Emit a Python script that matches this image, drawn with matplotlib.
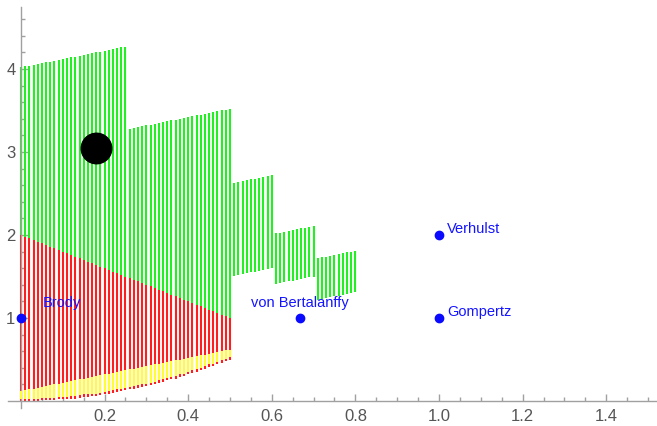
import numpy as np
import matplotlib.pyplot as plt
from matplotlib.ticker import FixedLocator

plt.rcParams['font.family'] = ['Liberation Sans', 'DejaVu Sans']

# sampled parameter values (one vertical stroke each)
green_x = [0.00, 0.01, 0.02, 0.03, 0.04, 0.05, 0.06, 0.07, 0.08, 0.09,
           0.10, 0.11, 0.12, 0.13, 0.14, 0.15, 0.16, 0.17, 0.18, 0.19,
           0.20, 0.21, 0.22, 0.23, 0.24, 0.25,
           0.26, 0.27, 0.28, 0.29, 0.30, 0.31, 0.32, 0.33, 0.34, 0.35,
           0.36, 0.37, 0.38, 0.39, 0.40, 0.41, 0.42, 0.43, 0.44, 0.45,
           0.46, 0.47, 0.48, 0.49, 0.50,
           0.51, 0.52, 0.53, 0.54, 0.55, 0.56, 0.57, 0.58, 0.59, 0.60,
           0.61, 0.62, 0.63, 0.64, 0.65, 0.66, 0.67, 0.68, 0.69, 0.70,
           0.71, 0.72, 0.73, 0.74, 0.75, 0.76, 0.77, 0.78, 0.79, 0.80]
green_top = [4.02, 4.03, 4.04, 4.05, 4.06, 4.07, 4.08, 4.09, 4.10, 4.11,
             4.12, 4.13, 4.14, 4.15, 4.16, 4.17, 4.18, 4.19, 4.20, 4.21,
             4.22, 4.23, 4.24, 4.25, 4.26, 4.27,
             3.28, 3.29, 3.30, 3.31, 3.32, 3.33, 3.34, 3.35, 3.36, 3.37,
             3.38, 3.39, 3.40, 3.41, 3.42, 3.43, 3.44, 3.45, 3.46, 3.47,
             3.48, 3.49, 3.50, 3.51, 3.52,
             2.63, 2.64, 2.65, 2.66, 2.67, 2.68, 2.69, 2.70, 2.71, 2.72,
             2.02, 2.03, 2.04, 2.05, 2.06, 2.07, 2.08, 2.09, 2.10, 2.11,
             1.72, 1.73, 1.74, 1.75, 1.76, 1.77, 1.78, 1.79, 1.80, 1.81]
green_bottom = [2.00, 1.98, 1.96, 1.94, 1.92, 1.90, 1.88, 1.86, 1.84, 1.82,
                1.80, 1.78, 1.76, 1.74, 1.72, 1.70, 1.68, 1.66, 1.64, 1.62,
                1.60, 1.58, 1.56, 1.54, 1.52, 1.50,
                1.48, 1.46, 1.44, 1.42, 1.40, 1.38, 1.36, 1.34, 1.32, 1.30,
                1.28, 1.26, 1.24, 1.22, 1.20, 1.18, 1.16, 1.14, 1.12, 1.10,
                1.08, 1.06, 1.04, 1.02, 1.00,
                1.51, 1.52, 1.53, 1.54, 1.55, 1.56, 1.57, 1.58, 1.59, 1.60,
                1.41, 1.42, 1.43, 1.44, 1.45, 1.46, 1.47, 1.48, 1.49, 1.50,
                1.22, 1.23, 1.24, 1.25, 1.26, 1.27, 1.28, 1.29, 1.30, 1.31]

# lower band, only up to 0.5
red_x = green_x[:51]
red_top = green_bottom[:51]
red_bottom = [0.00, 0.00, 0.00, 0.00, 0.00, 0.01, 0.01, 0.01, 0.01, 0.02,
              0.02, 0.02, 0.03, 0.03, 0.04, 0.05, 0.05, 0.06, 0.06, 0.07,
              0.08, 0.09, 0.10, 0.11, 0.12, 0.13, 0.14, 0.15, 0.16, 0.17,
              0.18, 0.19, 0.20, 0.22, 0.23, 0.25, 0.26, 0.27, 0.29, 0.30,
              0.32, 0.34, 0.35, 0.37, 0.39, 0.41, 0.42, 0.44, 0.46, 0.48,
              0.50]
yellow_top = [0.12, 0.13, 0.14, 0.15, 0.16, 0.17, 0.18, 0.19, 0.20, 0.21,
              0.22, 0.23, 0.24, 0.25, 0.26, 0.27, 0.28, 0.29, 0.30, 0.31,
              0.32, 0.33, 0.34, 0.35, 0.36, 0.37, 0.38, 0.39, 0.40, 0.41,
              0.42, 0.43, 0.44, 0.45, 0.46, 0.47, 0.48, 0.49, 0.50, 0.51,
              0.52, 0.53, 0.54, 0.55, 0.56, 0.57, 0.58, 0.59, 0.60, 0.61,
              0.62]
yellow_bottom = [b + 0.03 for b in red_bottom]

# named models
model_names = ['Brody', 'von Bertalanffy', 'Gompertz', 'Verhulst']
model_x = [0.0, 2 / 3, 1.0, 1.0]
model_y = [1.0, 1.0, 1.0, 2.0]
label_offsets = [(16, 11, 'left'), (0, 11, 'center'), (6, 4, 'left'), (6, 4, 'left')]

estimate_x = [0.18]
estimate_y = [3.05]

fig = plt.figure(figsize=(6.57, 4.26), dpi=100)
ax = fig.add_axes([0, 0, 1, 1])

ax.vlines(green_x, green_bottom, green_top, colors='#22f022', lw=1.5, zorder=2)
ax.vlines(red_x, red_bottom, red_top, colors='#ff1e1e', lw=1.5, zorder=2)
ax.vlines(red_x, yellow_bottom, yellow_top, colors='#ffff30', lw=1.5, zorder=3)

ax.plot(estimate_x, estimate_y, 'o', color='black', ms=22, zorder=5)
ax.plot(model_x, model_y, 'o', color='#0a0aff', ms=6, zorder=5, clip_on=False)
for name, mx, my, (dx, dy, ha) in zip(model_names, model_x, model_y, label_offsets):
    ax.annotate(name, (mx, my), xytext=(dx, dy), textcoords='offset points',
                ha=ha, va='center', color='#1414ff', fontsize=10.5)

ax.set_xlim(-0.0502, 1.5215)
ax.set_ylim(-0.301, 4.831)

# axes cross at the origin
for s in ['top', 'right']:
    ax.spines[s].set_visible(False)
ax.spines['left'].set_position(('data', 0))
ax.spines['bottom'].set_position(('data', 0))
ax.spines['left'].set_bounds(-0.08, 4.75)
ax.spines['bottom'].set_bounds(-0.031, 1.52)
for s in ['left', 'bottom']:
    ax.spines[s].set_color('#a0a0a0')
    ax.spines[s].set_linewidth(1.0)

ax.xaxis.set_major_locator(FixedLocator([0.2, 0.4, 0.6, 0.8, 1.0, 1.2, 1.4]))
ax.xaxis.set_minor_locator(FixedLocator(np.arange(1, 31) * 0.05))
ax.yaxis.set_major_locator(FixedLocator([1, 2, 3, 4]))
ax.yaxis.set_minor_locator(FixedLocator(np.arange(1, 24) * 0.2))
ax.xaxis.set_major_formatter(lambda v, p: f'{v:.1f}')
ax.yaxis.set_major_formatter(lambda v, p: f'{v:.0f}')
ax.tick_params(which='both', direction='in', color='#a0a0a0', width=1.0)
ax.tick_params(which='major', length=5, labelsize=12, labelcolor='#555555')
ax.tick_params(which='minor', length=3)
ax.tick_params(axis='x', which='major', pad=6)
ax.tick_params(axis='y', which='major', pad=4)

fig.savefig('out.png', dpi=100)
